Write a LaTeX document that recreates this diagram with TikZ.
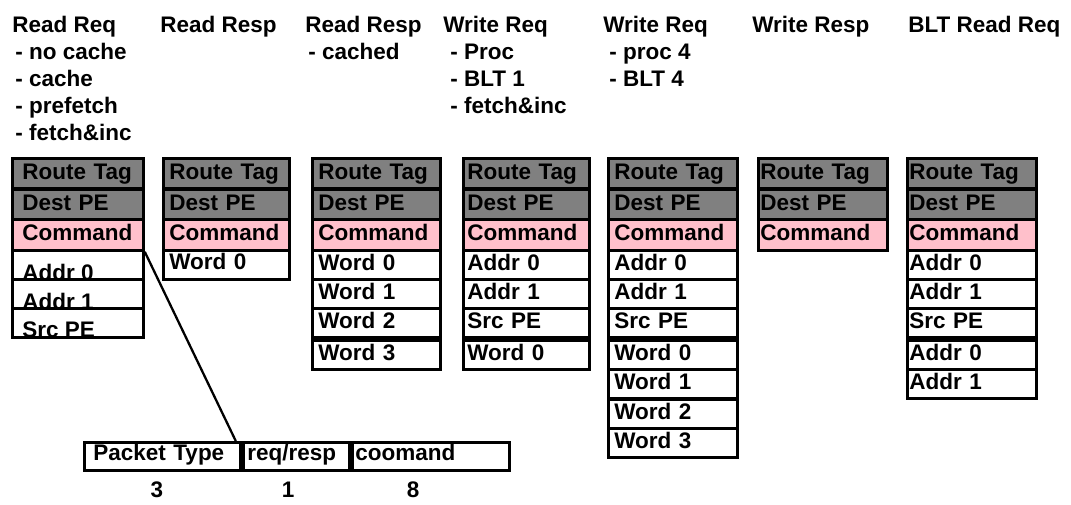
\documentclass[tikz,border=0pt]{standalone}
\usepackage{fontspec}
\setmainfont{Liberation Sans}
\usetikzlibrary{calc}

\begin{document}
\begin{tikzpicture}[x=0.02cm,y=-0.02cm,
  font=\fontsize{12.8}{15.3}\selectfont\bfseries]
  \definecolor{taggray}{RGB}{128,128,128}
  \definecolor{cmdpink}{RGB}{255,192,203}
  \tikzset{
    cell/.style={draw, line width=1.6pt, anchor=north west, inner ysep=0pt,
      minimum height=0.58cm, align=left, text height=0.72em, text depth=0.08em},
    tagcell/.style={cell, fill=taggray, minimum height=0.6cm},
    cmdcell/.style={cell, fill=cmdpink, minimum height=0.62cm},
    fieldcell/.style={cell, minimum height=0.56cm, text depth=0.25em},
    lowtext/.style={anchor=base west, inner sep=0pt},
    title/.style={anchor=north west, inner sep=0pt, align=left},
    colA/.style={minimum width=2.62cm, inner xsep=0.2cm, text width=2.22cm},
    colB/.style={minimum width=2.52cm, inner xsep=0.12cm, text width=2.28cm},
    colC/.style={minimum width=2.56cm, inner xsep=0.12cm, text width=2.32cm},
    colD/.style={minimum width=2.52cm, inner xsep=0.08cm, text width=2.36cm},
    colE/.style={minimum width=2.58cm, inner xsep=0.12cm, text width=2.34cm},
    colF/.style={minimum width=2.58cm, inner xsep=0.04cm, text width=2.50cm},
    colG/.style={minimum width=2.58cm, inner xsep=0.04cm, text width=2.50cm},
  }
  \useasboundingbox (0,0) rectangle (1071,504);

  % packet kinds
  \node[title] (ttlA) at (12,16) {Read Req\\\hspace*{0.06cm}- no cache\\\hspace*{0.06cm}- cache\\\hspace*{0.06cm}- prefetch\\\hspace*{0.06cm}- fetch\&inc};
  \node[title] (ttlB) at (160,16) {Read Resp};
  \node[title] (ttlC) at (305,16) {Read Resp\\\hspace*{0.06cm}- cached};
  \node[title] (ttlD) at (443,16) {Write Req\\\hspace*{0.14cm}- Proc\\\hspace*{0.14cm}- BLT 1\\\hspace*{0.14cm}- fetch\&inc};
  \node[title] (ttlE) at (603,16) {Write Req\\\hspace*{0.12cm}- proc 4\\\hspace*{0.12cm}- BLT 4};
  \node[title] (ttlF) at (752,16) {Write Resp};
  \node[title] (ttlG) at (908,16) {BLT Read Req};

  % common header of every packet
  \foreach \c/\x in {A/11, B/162, C/311, D/462, E/607, F/757, G/906}{
    \node[tagcell, col\c] (tag\c) at (\x,157) {Route Tag};
    \node[tagcell, col\c] (dest\c) at (\x,188) {Dest PE};
    \node[cmdcell, col\c] (cmd\c) at (\x,218) {Command};
  }

  % read req
  \node[cell, colA] (addrA0) at (11,249) {};
  \node[cell, colA] (addrA1) at (11,278) {};
  \node[cell, colA] (srcA) at (11,307) {};
  \node[lowtext] (addrA0txt) at (22,280) {Addr 0};
  \node[lowtext] (addrA1txt) at (22,309) {Addr 1};
  \node[lowtext] (srcAtxt) at (22,337) {Src PE};

  % read resp
  \node[cell, colB, text depth=0.25em] (wordB0) at (162,249) {Word 0};

  % read resp, cached
  \node[cell, colC] (wordC0) at (311,249) {Word 0};
  \node[cell, colC] (wordC1) at (311,278) {Word 1};
  \node[cell, colC] (wordC2) at (311,307) {Word 2};
  \node[cell, colC] (wordC3) at (311,339) {Word 3};

  % write req, 1 word
  \node[cell, colD] (addrD0) at (462,249) {Addr 0};
  \node[cell, colD] (addrD1) at (462,278) {Addr 1};
  \node[cell, colD] (srcD) at (462,307) {Src PE};
  \node[cell, colD] (wordD0) at (462,339) {Word 0};

  % write req, 4 words
  \node[cell, colE] (addrE0) at (607,249) {Addr 0};
  \node[cell, colE] (addrE1) at (607,278) {Addr 1};
  \node[cell, colE] (srcE) at (607,307) {Src PE};
  \node[cell, colE] (wordE0) at (607,339) {Word 0};
  \node[cell, colE] (wordE1) at (607,368) {Word 1};
  \node[cell, colE] (wordE2) at (607,398) {Word 2};
  \node[cell, colE] (wordE3) at (607,427) {Word 3};

  % blt read req
  \node[cell, colG] (addrG0) at (906,249) {Addr 0};
  \node[cell, colG] (addrG1) at (906,278) {Addr 1};
  \node[cell, colG] (srcG) at (906,307) {Src PE};
  \node[cell, colG] (addrG2) at (906,339) {Addr 0};
  \node[cell, colG] (addrG3) at (906,368) {Addr 1};

  % command field layout
  \node[fieldcell, minimum width=3.12cm, inner xsep=0.18cm, text width=2.76cm] (ptype) at (83,441) {Packet Type};
  \node[fieldcell, minimum width=2.12cm, inner xsep=0.08cm, text width=1.96cm] (reqresp) at (242,441) {req/resp};
  \node[fieldcell, minimum width=3.14cm, inner xsep=0.06cm, text width=3.02cm] (cmdfield) at (351,441) {coomand};
  \node (bitsA) at (157,490) {3};
  \node (bitsB) at (288,490) {1};
  \node (bitsC) at (413,490) {8};

  \draw[line width=1.3pt] (cmdA.south east) -- ($(ptype.north east)+(-6,0)$);
\end{tikzpicture}
\end{document}
